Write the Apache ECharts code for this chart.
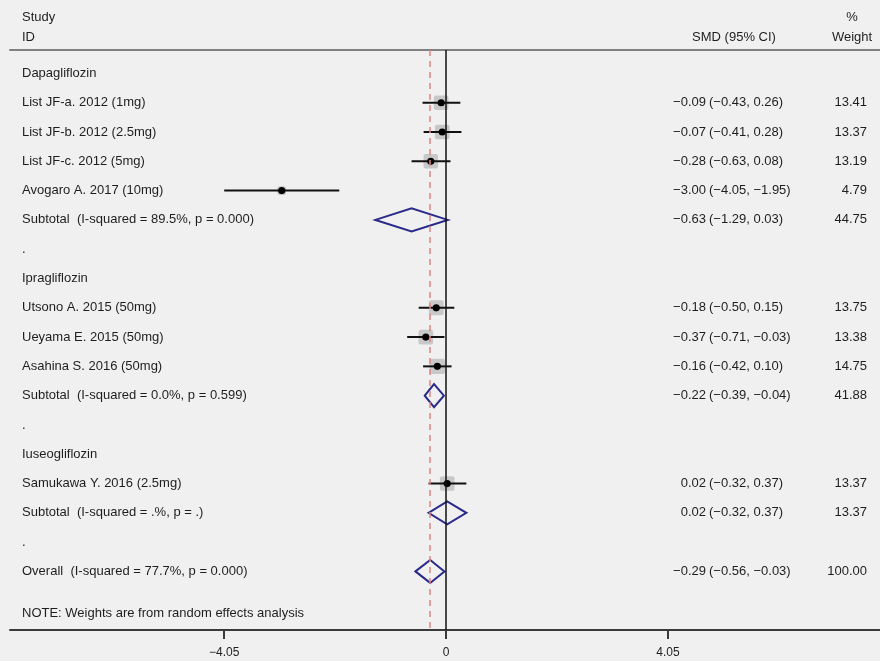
<!DOCTYPE html>
<html><head><meta charset="utf-8">
<script src="https://cdn.jsdelivr.net/npm/echarts@6/dist/echarts.min.js"></script>
<style>html,body{margin:0;padding:0;background:#f0f0f0}#c{width:880px;height:661px}</style>
</head><body><div id="c"></div>
<script>
// ---- data ----
const studyLabels = ['Dapagliflozin','List JF-a. 2012 (1mg)','List JF-b. 2012 (2.5mg)','List JF-c. 2012 (5mg)','Avogaro A. 2017 (10mg)','Subtotal  (I-squared = 89.5%, p = 0.000)','.','Ipragliflozin','Utsono A. 2015 (50mg)','Ueyama E. 2015 (50mg)','Asahina S. 2016 (50mg)','Subtotal  (I-squared = 0.0%, p = 0.599)','.','Iuseogliflozin','Samukawa Y. 2016 (2.5mg)','Subtotal  (I-squared = .%, p = .)','.','Overall  (I-squared = 77.7%, p = 0.000)'];
const rowType = ['head','study','study','study','study','sub','dot','head','study','study','study','sub','dot','head','study','sub','dot','overall'];
const est   = [null,-0.09,-0.07,-0.28,-3.00,-0.63,null,null,-0.18,-0.37,-0.16,-0.22,null,null,0.02,0.02,null,-0.29];
const lower = [null,-0.43,-0.41,-0.63,-4.05,-1.29,null,null,-0.50,-0.71,-0.42,-0.39,null,null,-0.32,-0.32,null,-0.56];
const upper = [null, 0.26, 0.28, 0.08,-1.95, 0.03,null,null, 0.15,-0.03, 0.10,-0.04,null,null, 0.37, 0.37,null,-0.03];
const weights = [null,13.41,13.37,13.19,4.79,44.75,null,null,13.75,13.38,14.75,41.88,null,null,13.37,13.37,null,100.00];
const estText = [null,'\u22120.09','\u22120.07','\u22120.28','\u22123.00','\u22120.63',null,null,'\u22120.18','\u22120.37','\u22120.16','\u22120.22',null,null,'0.02','0.02',null,'\u22120.29'];
const ciText = [null,'(\u22120.43, 0.26)','(\u22120.41, 0.28)','(\u22120.63, 0.08)','(\u22124.05, \u22121.95)','(\u22121.29, 0.03)',null,null,'(\u22120.50, 0.15)','(\u22120.71, \u22120.03)','(\u22120.42, 0.10)','(\u22120.39, \u22120.04)',null,null,'(\u22120.32, 0.37)','(\u22120.32, 0.37)',null,'(\u22120.56, \u22120.03)'];
const weightText = [null,'13.41','13.37','13.19','4.79','44.75',null,null,'13.75','13.38','14.75','41.88',null,null,'13.37','13.37',null,'100.00'];
const tickValues = [-4.05, 0, 4.05];
const tickLabels = ['\u22124.05', '0', '4.05'];
const overallEst = -0.29;
const noteText = 'NOTE: Weights are from random effects analysis';
const noteRow = 18.45;

// ---- build ----
const FONT = '"Liberation Sans", Arial, sans-serif';
const FS = '13px ';
const TXT = '#1e1e1e';
const studyData = [], diamondData = [], textData = [];
studyLabels.forEach((lab, i) => {
  textData.push([0, i]);
  if (rowType[i] === 'study') studyData.push([est[i], i, lower[i], upper[i], weights[i]]);
  if (rowType[i] === 'sub' || rowType[i] === 'overall') diamondData.push([est[i], i, lower[i], upper[i]]);
});

const chart = echarts.init(document.getElementById('c'), null, {renderer: 'canvas'});
chart.setOption({
  backgroundColor: '#f0f0f0',
  animation: false,
  grid: {left: 10, right: 0, top: 50, bottom: 31, containLabel: false},
  xAxis: [{
    type: 'value', min: -7.96, max: 7.92, position: 'bottom',
    splitLine: {show: false},
    axisLine: {show: true, onZero: false, lineStyle: {color: '#3a3a3a', width: 2}},
    axisTick: {show: true, customValues: tickValues, length: 9, lineStyle: {color: '#3a3a3a', width: 2}},
    axisLabel: {show: true, customValues: tickValues, margin: 17, color: TXT, fontFamily: FONT, fontSize: 12,
      formatter: v => tickLabels[tickValues.indexOf(v)] ?? ''}
  }, {
    type: 'value', min: -7.96, max: 7.92, position: 'top',
    splitLine: {show: false},
    axisLine: {show: true, onZero: false, lineStyle: {color: '#808080', width: 2}},
    axisTick: {show: false}, axisLabel: {show: false}
  }],
  yAxis: {type: 'value', min: -0.8, max: 19, inverse: true, show: false},
  graphic: [
    {type: 'text', x: 22, y: 17, style: {text: 'Study', font: FS + FONT, fill: TXT, textVerticalAlign: 'middle'}},
    {type: 'text', x: 22, y: 37, style: {text: 'ID', font: FS + FONT, fill: TXT, textVerticalAlign: 'middle'}},
    {type: 'text', x: 734, y: 37, style: {text: 'SMD (95% CI)', font: FS + FONT, fill: TXT, textAlign: 'center', textVerticalAlign: 'middle'}},
    {type: 'text', x: 852, y: 17, style: {text: '%', font: FS + FONT, fill: TXT, textAlign: 'center', textVerticalAlign: 'middle'}},
    {type: 'text', x: 852, y: 37, style: {text: 'Weight', font: FS + FONT, fill: TXT, textAlign: 'center', textVerticalAlign: 'middle'}}
  ],
  series: [
    {
      type: 'line', data: [], silent: true,
      markLine: {
        silent: true, symbol: 'none', label: {show: false},
        data: [
          {xAxis: 0, lineStyle: {color: '#111', width: 1.5, type: 'solid'}},
          {xAxis: overallEst, lineStyle: {color: '#dc8484', width: 1.5, type: [6, 5]}}
        ]
      }
    },
    {
      type: 'custom', data: studyData, silent: true,
      renderItem: (params, api) => {
        const c = api.coord([api.value(0), api.value(1)]);
        const lo = api.coord([api.value(2), api.value(1)]);
        const hi = api.coord([api.value(3), api.value(1)]);
        const s = 4.0 * Math.sqrt(api.value(4));
        return {type: 'group', children: [
          {type: 'rect', shape: {x: c[0] - s / 2, y: c[1] - s / 2, width: s, height: s, r: 2}, style: {fill: '#c8c8c8'}},
          {type: 'line', shape: {x1: lo[0], y1: lo[1], x2: hi[0], y2: hi[1]}, style: {stroke: '#111', lineWidth: 2}},
          {type: 'circle', shape: {cx: c[0], cy: c[1], r: 3.6}, style: {fill: '#000'}}
        ]};
      }
    },
    {
      type: 'custom', data: diamondData, silent: true,
      renderItem: (params, api) => {
        const c = api.coord([api.value(0), api.value(1)]);
        const lo = api.coord([api.value(2), api.value(1)]);
        const hi = api.coord([api.value(3), api.value(1)]);
        const h = 11.5;
        return {type: 'polygon', shape: {points: [[lo[0], c[1]], [c[0], c[1] - h], [hi[0], c[1]], [c[0], c[1] + h]]},
          style: {fill: 'none', stroke: '#2a2a8a', lineWidth: 2}};
      }
    },
    {
      type: 'custom', data: textData, silent: true,
      renderItem: (params, api) => {
        const i = params.dataIndex;
        const y = api.coord([0, api.value(1)])[1];
        const f = FS + FONT;
        const kids = [{type: 'text', x: 22, y: y, style: {text: studyLabels[i], font: f, fill: TXT, textVerticalAlign: 'middle'}}];
        if (estText[i]) {
          kids.push({type: 'text', x: 706, y: y, style: {text: estText[i], font: f, fill: TXT, textAlign: 'right', textVerticalAlign: 'middle'}});
          kids.push({type: 'text', x: 709, y: y, style: {text: ciText[i], font: f, fill: TXT, textAlign: 'left', textVerticalAlign: 'middle'}});
          kids.push({type: 'text', x: 867, y: y, style: {text: weightText[i], font: f, fill: TXT, textAlign: 'right', textVerticalAlign: 'middle'}});
        }
        return {type: 'group', children: kids};
      }
    },
    {
      type: 'custom', data: [[0, noteRow]], silent: true,
      renderItem: (params, api) => {
        const y = api.coord([0, api.value(1)])[1];
        return {type: 'text', x: 22, y: y, style: {text: noteText, font: FS + FONT, fill: TXT, textVerticalAlign: 'middle'}};
      }
    }
  ]
});
</script></body></html>
